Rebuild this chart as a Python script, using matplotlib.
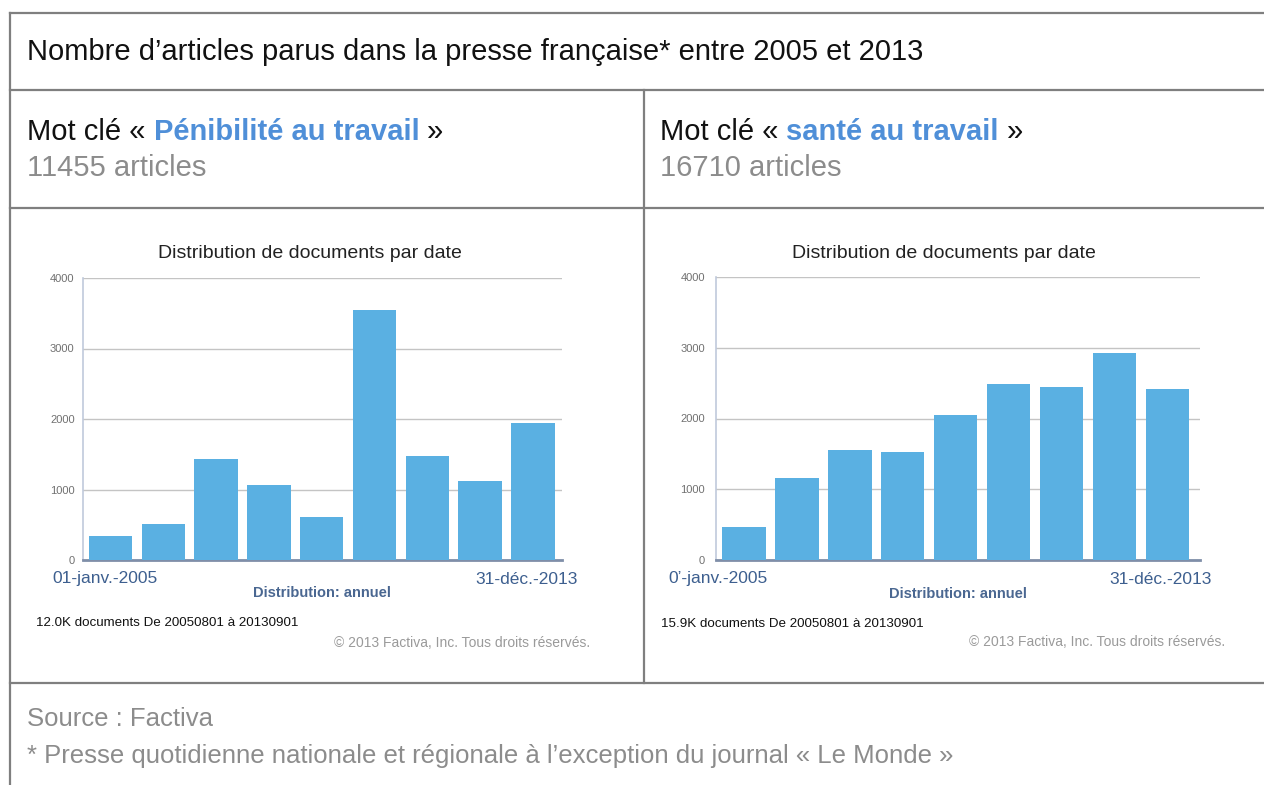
import matplotlib
matplotlib.use("Agg")
import matplotlib.pyplot as plt
from matplotlib.lines import Line2D

plt.rcParams['font.family'] = ['Liberation Sans', 'DejaVu Sans']

W, H = 1264, 785

# ---------------- data ----------------
years = ["2005", "2006", "2007", "2008", "2009", "2010", "2011", "2012", "2013"]
penibilite = [340, 505, 1430, 1065, 615, 3550, 1470, 1125, 1940]
sante = [470, 1155, 1560, 1525, 2050, 2485, 2450, 2920, 2415]
yticks = [0, 1000, 2000, 3000, 4000]

title = "Nombre d\u2019articles parus dans la presse fran\u00e7aise* entre 2005 et 2013"
kw_left = "P\u00e9nibilit\u00e9 au travail"
kw_right = "sant\u00e9 au travail"
count_left = "11455 articles"
count_right = "16710 articles"
chart_title = "Distribution de documents par date"
x_start = ["01-janv.-2005", "0\u2019-janv.-2005"]
x_end = "31-d\u00e9c.-2013"
dist_label = "Distribution: annuel"
doc_notes = ["12.0K documents De 20050801 \u00e0 20130901",
             "15.9K documents De 20050801 \u00e0 20130901"]
copyright_txt = "\u00a9 2013 Factiva, Inc. Tous droits r\u00e9serv\u00e9s."
source = "Source : Factiva"
footnote = "* Presse quotidienne nationale et r\u00e9gionale \u00e0 l\u2019exception du journal \u00ab Le Monde \u00bb"

# ---------------- styles ----------------
BORDER = "#7f7f7f"
BLUE_KW = "#4f8fd8"
GRAY_TXT = "#8c8c8c"
BAR = "#5ab0e2"
AXBLUE = "#3d5f8f"

fig = plt.figure(figsize=(W / 100, H / 100), dpi=100)
fig.patch.set_facecolor("white")

# overlay axes in pixel coordinates (y down)
ov = fig.add_axes([0, 0, 1, 1], zorder=5)
ov.set_xlim(0, W)
ov.set_ylim(H, 0)
ov.axis("off")
ov.patch.set_alpha(0)


def hline(y, x0, x1):
    ov.add_line(Line2D([x0, x1], [y, y], color=BORDER, lw=1.6))


def vline(x, y0, y1):
    ov.add_line(Line2D([x, x], [y0, y1], color=BORDER, lw=1.6))


# table borders
hline(13, 9.5, W)
hline(90, 9.5, W)
hline(208, 9.5, W)
hline(683, 9.5, W)
vline(9.5, 13, H)
vline(644, 90, 683)

HFS = 21
ov.text(27, 52, title, fontsize=HFS, color="#111111", va="center", ha="left")


def keyword_line(x, y, kw):
    t1 = ov.text(x, y, "Mot cl\u00e9 \u00ab ", fontsize=HFS, color="#111111",
                 va="baseline", ha="left")
    t2 = ov.annotate(kw, xy=(1, 0), xycoords=t1, fontsize=HFS, color=BLUE_KW,
                     fontweight="bold", va="bottom", ha="left")
    ov.annotate(" \u00bb", xy=(1, 0), xycoords=t2, fontsize=HFS, color="#111111",
                va="bottom", ha="left")


keyword_line(27, 140, kw_left)
keyword_line(660, 140, kw_right)
ov.text(27, 168, count_left, fontsize=HFS, color=GRAY_TXT, va="center", ha="left")
ov.text(660, 168, count_right, fontsize=HFS, color=GRAY_TXT, va="center", ha="left")

ov.text(27, 719, source, fontsize=18.5, color=GRAY_TXT, va="center", ha="left")
ov.text(27, 756, footnote, fontsize=18.5, color=GRAY_TXT, va="center", ha="left")


def make_chart(ax_left, ax_right, y0, y4000, values, cfg):
    bottom = (H - y0) / H
    height = (y0 - y4000) / H
    ax = fig.add_axes([ax_left / W, bottom, (ax_right - ax_left) / W, height])
    x = list(range(len(values)))
    ax.bar(x, values, width=0.82, color=BAR, zorder=3)
    ax.set_ylim(0, 4000)
    ax.set_xlim(cfg["xlim"])
    ax.set_yticks(yticks)
    ax.set_yticklabels([str(v) for v in yticks], fontsize=8, color="#707070")
    ax.set_xticks([])
    ax.tick_params(axis="y", length=0, pad=cfg["pad"])
    ax.grid(axis="y", color="#c4c4c4", lw=1.0, zorder=0)
    for s in ["top", "right"]:
        ax.spines[s].set_visible(False)
    ax.spines["left"].set_color("#c0cadb")
    ax.spines["left"].set_linewidth(1.2)
    ax.spines["bottom"].set_color("#7f8ea8")
    ax.spines["bottom"].set_linewidth(2)
    return ax


CT = 14
XL = 12.5
# left chart
make_chart(83, 562, 560, 278, penibilite, {"xlim": (-0.52, 8.55), "pad": 6})
ov.text(310, 253, chart_title, fontsize=CT, color="#222222", ha="center", va="center")
ov.text(52, 579, x_start[0], fontsize=XL, color=AXBLUE, ha="left", va="center")
ov.text(578, 579, x_end, fontsize=XL, color=AXBLUE, ha="right", va="center")
ov.text(322, 593, dist_label, fontsize=10.5, color="#4a6791", ha="center", va="center",
        fontweight="bold")
ov.text(36, 623, doc_notes[0], fontsize=9.6, color="#111111", ha="left", va="center")
ov.text(590, 643, copyright_txt, fontsize=10, color="#9a9a9a", ha="right", va="center")

# right chart
make_chart(716, 1200, 560, 277, sante, {"xlim": (-0.53, 8.62), "pad": 8})
ov.text(944, 253, chart_title, fontsize=CT, color="#222222", ha="center", va="center")
ov.text(668, 579, x_start[1], fontsize=XL, color=AXBLUE, ha="left", va="center")
ov.text(1212, 579, x_end, fontsize=XL, color=AXBLUE, ha="right", va="center")
ov.text(958, 594, dist_label, fontsize=10.5, color="#4a6791", ha="center", va="center",
        fontweight="bold")
ov.text(661, 624, doc_notes[1], fontsize=9.6, color="#111111", ha="left", va="center")
ov.text(1225, 642, copyright_txt, fontsize=10, color="#9a9a9a", ha="right", va="center")

fig.savefig("out.png", dpi=100, facecolor="white")
